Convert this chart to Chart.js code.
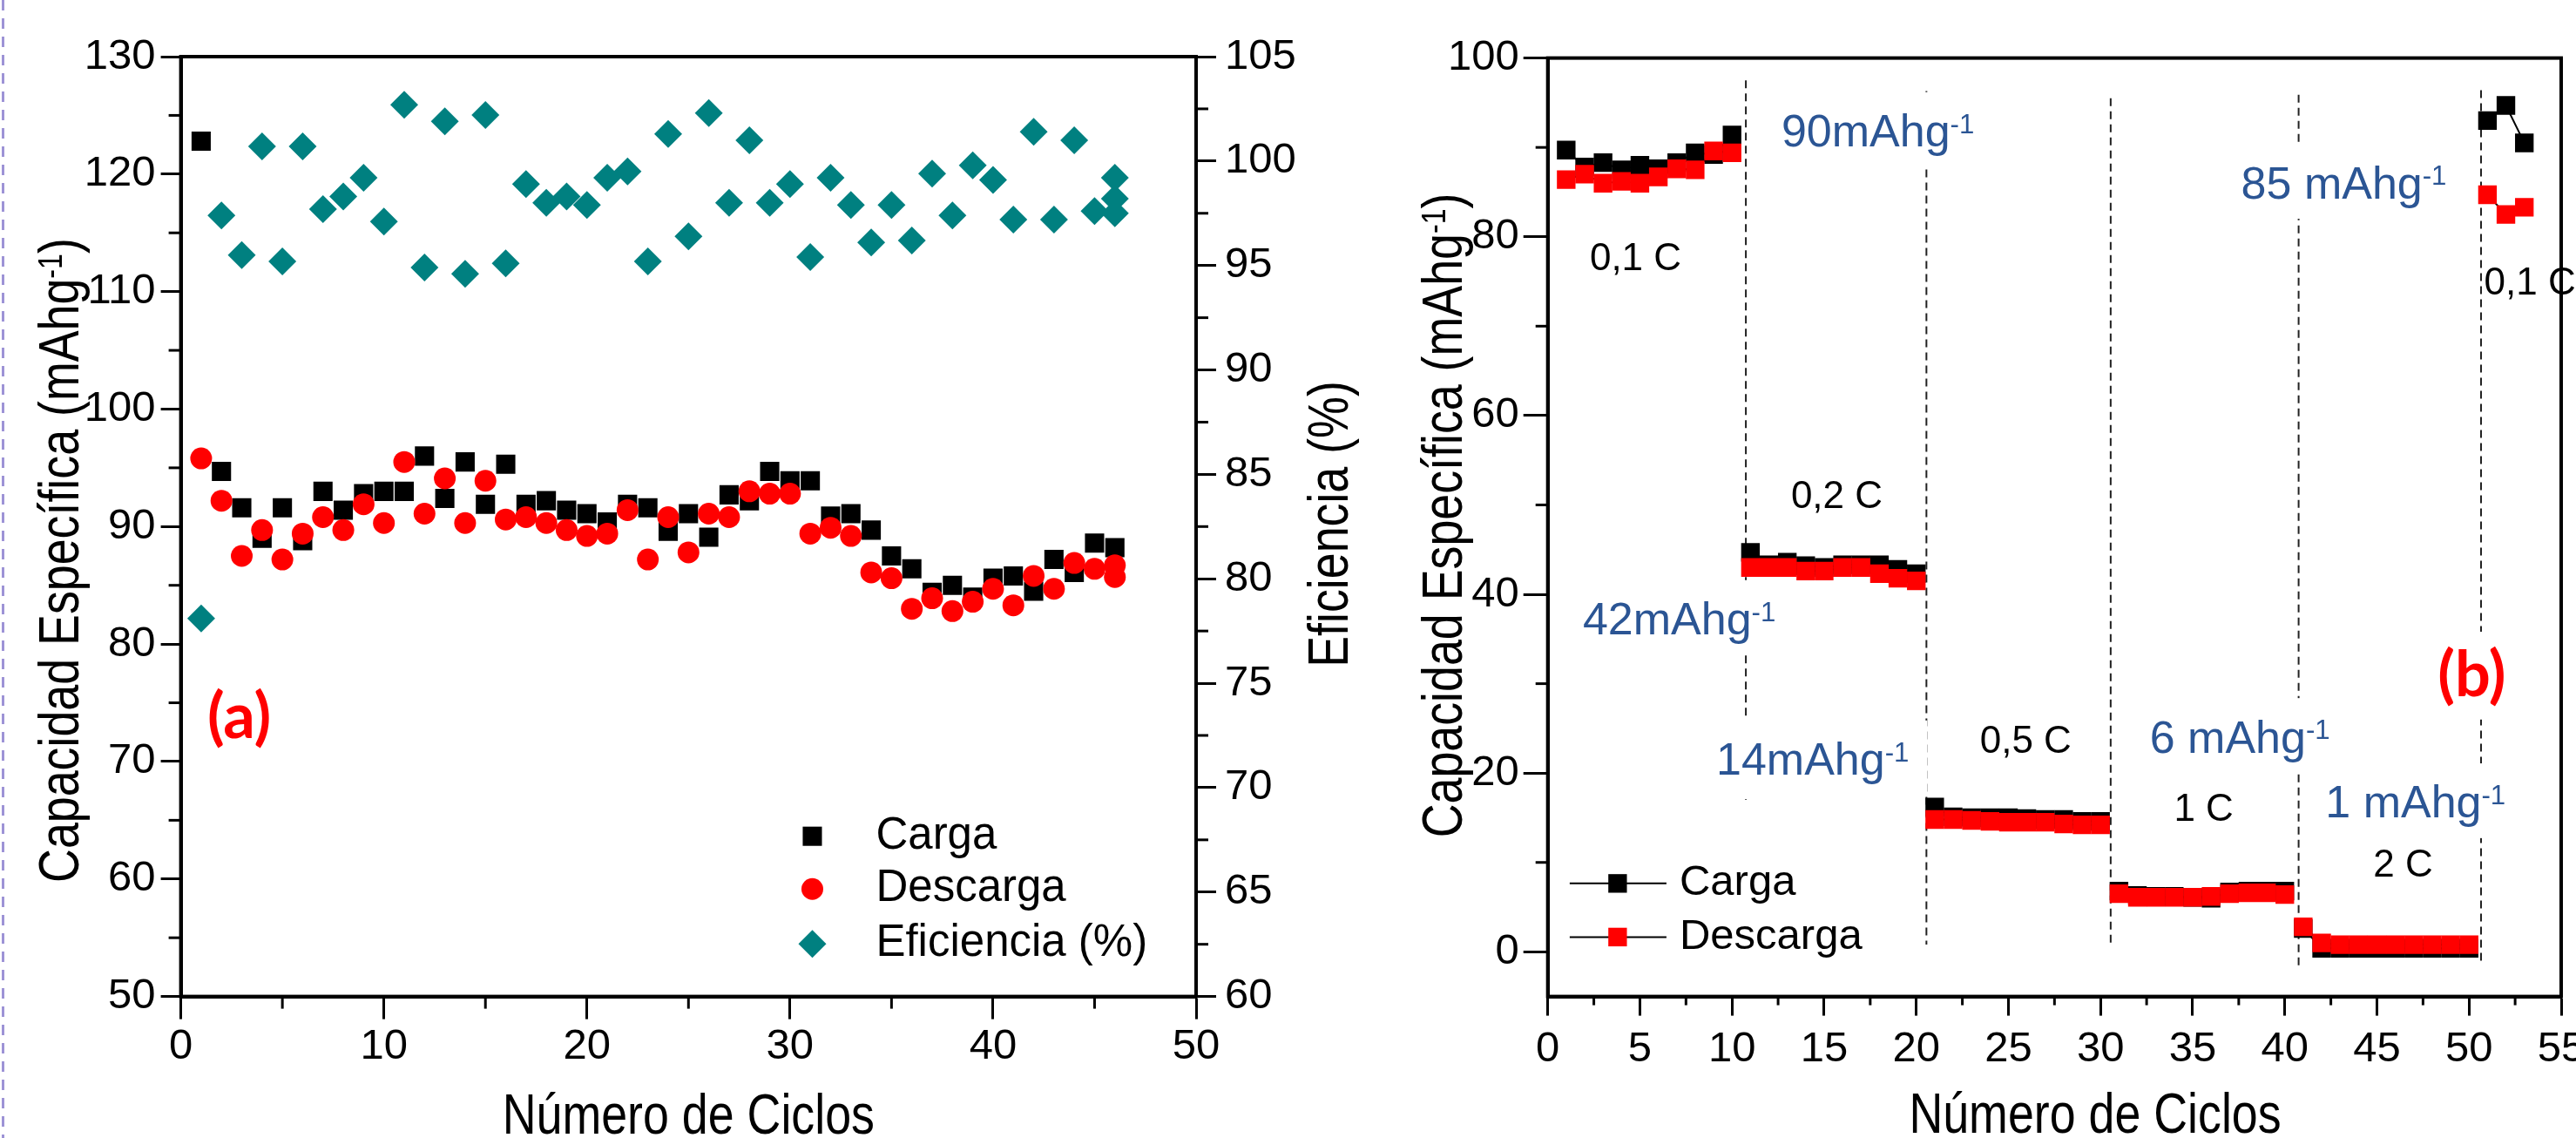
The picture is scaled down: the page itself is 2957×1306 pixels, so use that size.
<!DOCTYPE html>
<html><head><meta charset="utf-8">
<script src="https://cdn.jsdelivr.net/npm/chart.js@4.4.1/dist/chart.umd.min.js"></script>
<style>
html,body{margin:0;padding:0;background:#fff;width:2957px;height:1306px;overflow:hidden;}
#wrap{position:relative;width:2957px;height:1306px;overflow:hidden;background:#fff;}
#ca{position:absolute;left:0;top:0;}
#cb{position:absolute;left:1480px;top:0;}
#edge{position:absolute;left:2px;top:0;width:3px;height:1306px;background:repeating-linear-gradient(to bottom,#9d93d6 0 12px,transparent 12px 21px);}
</style></head><body><div id="wrap"><div id="edge"></div>
<canvas id="ca" width="1600" height="1306" style="width:1600px;height:1306px"></canvas>
<canvas id="cb" width="1500" height="1306" style="width:1500px;height:1306px"></canvas></div>
<script>
// ---------------- Panel (a) data ----------------
const ciclosCargaA = [1,2,3,4,5,6,7,8,9,10,11,12,13,14,15,16,17,18,19,20,21,22,23,24,25,26,27,28,29,30,31,32,33,34,35,36,37,38,39,40,41,42,43,44,45,46];
const cargaA = [122.8,94.7,91.6,89.0,91.6,88.8,93.0,91.4,92.8,93.0,93.0,96.0,92.4,95.5,91.9,95.3,91.9,92.2,91.4,91.1,90.4,91.9,91.6,89.6,91.1,89.1,92.7,92.2,94.7,93.9,93.9,90.9,91.1,89.7,87.5,86.4,84.4,85.0,84.0,85.6,85.8,84.5,87.2,86.1,88.6,88.2];
const ciclosDescargaA = [1,2,3,4,5,6,7,8,9,10,11,12,13,14,15,16,17,18,19,20,21,22,23,24,25,26,27,28,29,30,31,32,33,34,35,36,37,38,39,40,41,42,43,44,45,46,46];
const descargaA = [95.8,92.2,87.5,89.7,87.2,89.4,90.8,89.7,91.9,90.3,95.5,91.1,94.1,90.3,93.9,90.6,90.8,90.3,89.7,89.2,89.4,91.4,87.2,90.8,87.8,91.1,90.8,93.0,92.8,92.8,89.4,89.9,89.2,86.1,85.6,83.0,83.9,82.8,83.6,84.7,83.3,85.8,84.7,86.9,86.4,86.7,85.7];
const ciclosEficienciaA = [1,2,3,4,5,6,7,8,9,10,11,12,13,14,15,16,17,18,19,20,21,22,23,24,25,26,27,28,29,30,31,32,33,34,35,36,37,38,39,40,41,42,43,44,45,46,46,46];
const eficienciaA = [78.1,97.4,95.5,100.7,95.2,100.7,97.7,98.3,99.2,97.1,102.7,94.9,101.9,94.6,102.2,95.1,98.9,98.0,98.3,97.9,99.2,99.5,95.2,101.3,96.4,102.3,98.0,101.0,98.0,98.9,95.4,99.2,97.9,96.1,97.9,96.2,99.4,97.4,99.8,99.1,97.2,101.4,97.2,101.0,97.6,99.2,98.2,97.5];
const ticksXA = [0,10,20,30,40,50];
const ticksYA = [50,60,70,80,90,100,110,120,130];
const ticksY2A = [60,65,70,75,80,85,90,95,100,105];

// ---------------- Panel (b) data ----------------
const ciclosB = [1,2,3,4,5,6,7,8,9,10,11,12,13,14,15,16,17,18,19,20,21,22,23,24,25,26,27,28,29,30,31,32,33,34,35,36,37,38,39,40,41,42,43,44,45,46,47,48,49,50,51,52,53];
const cargaB = [89.7,87.8,88.3,87.5,88.0,87.6,88.3,89.4,89.2,91.4,
                44.7,43.3,43.6,43.2,43.0,43.3,43.3,43.3,42.8,42.3,
                16.2,15.1,15.0,15.0,15.0,14.9,14.8,14.8,14.6,14.6,
                6.8,6.3,6.2,6.2,6.1,6.0,6.7,6.8,6.8,6.8,
                2.6,0.4,0.4,0.4,0.4,0.4,0.4,0.4,0.4,0.4,
                93.0,94.7,90.5];
const descargaB = [86.4,87.0,86.0,86.2,86.0,86.7,87.6,87.5,89.6,89.4,
                   43.0,43.0,43.0,42.6,42.6,43.0,43.0,42.3,41.8,41.5,
                   14.8,14.8,14.7,14.6,14.5,14.5,14.5,14.3,14.2,14.2,
                   6.5,6.1,6.1,6.1,6.1,6.2,6.5,6.6,6.6,6.4,
                   2.8,1.0,0.8,0.8,0.8,0.8,0.8,0.8,0.8,0.8,
                   84.7,82.5,83.3];
const inicioTramosB = [1,11,21,31,41,51];
const ticksXB = [0,5,10,15,20,25,30,35,40,45,50,55];
const ticksYB = [0,20,40,60,80,100];
const cortesB = [10.75,20.55,30.55,40.75,50.65];
const cortesTopB = [97.5,96.3,95.5,95.9,96.4];
const cortesBottomB = [17.0,0.8,0.6,-1.9,-1.1];
const tasasB = ['0,1 C','0,2 C','0,5 C','1 C','2 C','0,1 C'];
const tasasXB = [2.28,13.2,23.45,33.98,44.8,50.82];
const tasasYB = [76.3,49.7,22.3,14.7,8.4,73.5];
const capacidadesB = ['90mAhg','42mAhg','14mAhg','6 mAhg','1 mAhg','85 mAhg'];
const capacidadesXB = [12.68,1.90,9.14,32.67,42.2,37.63];
const capacidadesYB = [90.1,35.5,19.8,22.3,15.0,84.3];

// ---------------- helpers ----------------
const FONT = "'Liberation Sans', Arial, Helvetica, sans-serif";
Chart.defaults.font.family = FONT;
Chart.defaults.color = '#000';

function fixedTicks(arr){ return s => { s.ticks = arr.map(v => ({value: v})); }; }
function mids(arr){ return arr.slice(1).map((v,i) => (v + arr[i]) / 2); }

function richText(ctx, parts, x, y, o){
  ctx.save();
  ctx.translate(x, y);
  if (o.rot) ctx.rotate(o.rot);
  ctx.scale(o.sx || 1, 1);
  ctx.textAlign = 'left';
  ctx.textBaseline = o.baseline || 'alphabetic';
  const fam = o.family || FONT;
  const f = s => (o.weight || 'normal') + ' ' + s + 'px ' + fam;
  let total = 0;
  const ws = parts.map(p => { ctx.font = f(p.sup ? o.size * 0.6 : o.size); const w = ctx.measureText(p.t).width; total += w; return w; });
  let cx = o.align === 'center' ? -total / 2 : (o.align === 'right' ? -total : 0);
  if (o.box){
    ctx.fillStyle = '#fff';
    const pad = o.size * 0.4;
    if ((o.baseline || 'alphabetic') === 'middle') ctx.fillRect(cx - pad, -o.size * 0.7, total + 2 * pad, o.size * 1.4);
    else ctx.fillRect(cx - pad, -o.size * 1.2, total + 2 * pad, o.size * 1.65);
  }
  ctx.fillStyle = o.color || '#000';
  parts.forEach((p, i) => { ctx.font = f(p.sup ? o.size * 0.6 : o.size); ctx.fillText(p.t, cx, p.sup ? -o.size * 0.3 : 0); cx += ws[i]; });
  ctx.restore();
}

function minorTicks(chart, specs){
  const ctx = chart.ctx, a = chart.chartArea;
  ctx.save(); ctx.strokeStyle = '#000'; ctx.lineWidth = 3;
  specs.forEach(sp => {
    const sc = chart.scales[sp.id];
    sp.values.forEach(v => {
      const p = sc.getPixelForValue(v);
      ctx.beginPath();
      if (sp.side === 'bottom'){ ctx.moveTo(p, a.bottom); ctx.lineTo(p, a.bottom + sp.len); }
      else if (sp.side === 'left'){ ctx.moveTo(a.left, p); ctx.lineTo(a.left - sp.len, p); }
      else { ctx.moveTo(a.right, p); ctx.lineTo(a.right + sp.len, p); }
      ctx.stroke();
    });
  });
  ctx.restore();
}

function frame(chart){
  const ctx = chart.ctx, a = chart.chartArea;
  ctx.save(); ctx.strokeStyle = '#000'; ctx.lineWidth = 4;
  ctx.strokeRect(a.left, a.top, a.right - a.left, a.bottom - a.top);
  ctx.restore();
}

function marker(ctx, style, x, y, r, color){
  ctx.save(); ctx.fillStyle = color; ctx.beginPath();
  if (style === 'rect'){ const h = r * Math.SQRT1_2; ctx.rect(x - h, y - h, 2 * h, 2 * h); }
  else if (style === 'circle'){ ctx.arc(x, y, r, 0, Math.PI * 2); }
  else { ctx.moveTo(x - r, y); ctx.lineTo(x, y - r); ctx.lineTo(x + r, y); ctx.lineTo(x, y + r); ctx.closePath(); }
  ctx.fill(); ctx.restore();
}

const TITLE = 64, TITLE_SX = 0.84;
const LABEL_FONT = "Lato, 'Open Sans', sans-serif";
const capTitle = [{t:'Capacidad Específica (mAhg'},{t:'-1',sup:true},{t:')'}];

// ---------------- Panel (a) ----------------
const pluginA = {
  id: 'extrasA',
  beforeDatasetsDraw(chart){ frame(chart); },
  afterDraw(chart){
    const ctx = chart.ctx, {x, y} = chart.scales, a = chart.chartArea;
    minorTicks(chart, [
      {id:'x', side:'bottom', len:14, values: mids(ticksXA)},
      {id:'y', side:'left', len:14, values: mids(ticksYA)},
      {id:'y2', side:'right', len:14, values: mids(ticksY2A)}
    ]);
    // legend
    const legX = x.getPixelForValue(31.1), legT = x.getPixelForValue(34.23);
    const rows = [
      {t:'Carga', s:'rect', r:15.6, c:'#000', v:63.64},
      {t:'Descarga', s:'circle', r:12.5, c:'#ff0000', v:59.15},
      {t:'Eficiencia (%)', s:'rectRot', r:16, c:'#008080', v:54.47}
    ];
    rows.forEach(rw => {
      const py = y.getPixelForValue(rw.v);
      marker(ctx, rw.s, legX, py, rw.r, rw.c);
      richText(ctx, [{t:rw.t}], legT, py, {size:51, baseline:'middle'});
    });
    // (a)
    richText(ctx, [{t:'(a)'}], x.getPixelForValue(1.3), y.getPixelForValue(73.7), {size:72, weight:'bold', family:LABEL_FONT, color:'#ff0000', baseline:'middle'});
    // titles
    richText(ctx, [{t:'Número de Ciclos'}], (a.left + a.right) / 2, 1301, {size:TITLE, sx:TITLE_SX, align:'center'});
    richText(ctx, capTitle, 90, 643, {size:TITLE, sx:TITLE_SX, align:'center', rot:-Math.PI/2});
    richText(ctx, [{t:'Eficiencia (%)'}], 1547, 601.5, {size:TITLE, sx:TITLE_SX, align:'center', rot:-Math.PI/2});
  }
};

const tickFont = {size:49, family:FONT};
function axisCommon(len){
  return {
    grid:{display:true, drawOnChartArea:false, drawTicks:true, tickLength:len, tickWidth:3, tickColor:'#000'},
    border:{display:true, width:4, color:'#000'}
  };
}

new Chart(document.getElementById('ca'), {
  type: 'scatter',
  data: { datasets: [
    {label:'Descarga', data: ciclosDescargaA.map((c,i) => ({x:c, y:descargaA[i]})), yAxisID:'y', order:0,
     pointStyle:'circle', pointRadius:12.5, pointBackgroundColor:'#ff0000', pointBorderColor:'#ff0000', pointBorderWidth:0},
    {label:'Carga', data: ciclosCargaA.map((c,i) => ({x:c, y:cargaA[i]})), yAxisID:'y', order:1,
     pointStyle:'rect', pointRadius:15.6, pointBackgroundColor:'#000', pointBorderColor:'#000', pointBorderWidth:0},
    {label:'Eficiencia (%)', data: ciclosEficienciaA.map((c,i) => ({x:c, y:eficienciaA[i]})), yAxisID:'y2', order:2,
     pointStyle:'rectRot', pointRadius:16, pointBackgroundColor:'#008080', pointBorderColor:'#008080', pointBorderWidth:0}
  ]},
  options: {
    responsive:false, animation:false, devicePixelRatio:1, events:[],
    layout:{padding:{top:65, left:0, right:0, bottom:0}},
    plugins:{legend:{display:false}, tooltip:{enabled:false}},
    scales:{
      x: Object.assign({type:'linear', position:'bottom', min:0, max:50,
          afterBuildTicks: fixedTicks(ticksXA), afterFit: s => { s.height = 162.4; },
          ticks:{font:tickFont, padding:2, maxRotation:0, autoSkip:false}}, axisCommon(26)),
      y: Object.assign({type:'linear', position:'left', min:50, max:130,
          afterBuildTicks: fixedTicks(ticksYA), afterFit: s => { s.width = 207.6; },
          ticks:{font:tickFont, padding:6, autoSkip:false}}, axisCommon(23)),
      y2: Object.assign({type:'linear', position:'right', min:60, max:105,
          afterBuildTicks: fixedTicks(ticksY2A), afterFit: s => { s.width = 1600 - 1373; },
          ticks:{font:tickFont, padding:10, autoSkip:false}}, axisCommon(23))
    }
  },
  plugins:[pluginA]
});

// ---------------- Panel (b) ----------------
function tramo(v){ let g = 0; inicioTramosB.forEach(s => { if (v >= s) g++; }); return g; }
const segColor = ctx => tramo(ctx.p0.parsed.x) === tramo(ctx.p1.parsed.x) ? '#000' : 'rgba(0,0,0,0)';

const pluginB = {
  id: 'extrasB',
  beforeDatasetsDraw(chart){
    const ctx = chart.ctx, {x, y} = chart.scales;
    frame(chart);
    ctx.save(); ctx.strokeStyle = '#222'; ctx.lineWidth = 2; ctx.setLineDash([9, 6]);
    cortesB.forEach((c, i) => {
      const px = x.getPixelForValue(c);
      ctx.beginPath(); ctx.moveTo(px, y.getPixelForValue(cortesTopB[i])); ctx.lineTo(px, y.getPixelForValue(cortesBottomB[i])); ctx.stroke();
    });
    ctx.restore();
  },
  afterDraw(chart){
    const ctx = chart.ctx, {x, y} = chart.scales;
    minorTicks(chart, [
      {id:'x', side:'bottom', len:10, values: mids(ticksXB)},
      {id:'y', side:'left', len:14, values: mids(ticksYB)}
    ]);
    // rate labels
    tasasB.forEach((t, i) => richText(ctx, [{t}], x.getPixelForValue(tasasXB[i]), y.getPixelForValue(tasasYB[i]), {size:44}));
    // capacity labels
    capacidadesB.forEach((t, i) => richText(ctx, [{t},{t:'-1',sup:true}], x.getPixelForValue(capacidadesXB[i]), y.getPixelForValue(capacidadesYB[i]), {size:52, color:'#2b5594', box:true}));
    // (b)
    richText(ctx, [{t:'(b)'}], x.getPixelForValue(48.3), y.getPixelForValue(30.9), {size:72, weight:'bold', family:LABEL_FONT, color:'#ff0000', baseline:'middle', box:true});
    // legend
    const rows = [{t:'Carga', c:'#000', v:7.65}, {t:'Descarga', c:'#ff0000', v:1.65}];
    rows.forEach(rw => {
      const py = y.getPixelForValue(rw.v);
      ctx.save(); ctx.strokeStyle = '#000'; ctx.lineWidth = 2;
      ctx.beginPath(); ctx.moveTo(x.getPixelForValue(1.19), py); ctx.lineTo(x.getPixelForValue(6.44), py); ctx.stroke(); ctx.restore();
      marker(ctx, 'rect', x.getPixelForValue(3.79), py, 15.1, rw.c);
      richText(ctx, [{t:rw.t}], x.getPixelForValue(7.15), py, {size:49, baseline:'middle'});
    });
    // titles
    richText(ctx, [{t:'Número de Ciclos'}], 925, 1300, {size:TITLE, sx:TITLE_SX, align:'center'});
    richText(ctx, capTitle, 198, 591.4, {size:TITLE, sx:TITLE_SX, align:'center', rot:-Math.PI/2});
  }
};

new Chart(document.getElementById('cb'), {
  type: 'scatter',
  data: { datasets: [
    {label:'Descarga', data: ciclosB.map((c,i) => ({x:c, y:descargaB[i]})), order:0, showLine:true,
     borderColor:'#000', borderWidth:2, segment:{borderColor:segColor},
     pointStyle:'rect', pointRadius:15.1, pointBackgroundColor:'#ff0000', pointBorderColor:'#ff0000', pointBorderWidth:0},
    {label:'Carga', data: ciclosB.map((c,i) => ({x:c, y:cargaB[i]})), order:1, showLine:true,
     borderColor:'#000', borderWidth:2, segment:{borderColor:segColor},
     pointStyle:'rect', pointRadius:15.1, pointBackgroundColor:'#000', pointBorderColor:'#000', pointBorderWidth:0}
  ]},
  options: {
    responsive:false, animation:false, devicePixelRatio:1, events:[],
    layout:{padding:{top:66.6, left:0, right:1500 - 1460, bottom:0}},
    plugins:{legend:{display:false}, tooltip:{enabled:false}},
    scales:{
      x: Object.assign({type:'linear', position:'bottom', min:0, max:55,
          afterBuildTicks: fixedTicks(ticksXB), afterFit: s => { s.height = 162.4; },
          ticks:{font:tickFont, padding:9, maxRotation:0, autoSkip:false}}, axisCommon(22)),
      y: Object.assign({type:'linear', position:'left', min:-5, max:100,
          afterBuildTicks: fixedTicks(ticksYB), afterFit: s => { s.width = 296.7; },
          ticks:{font:tickFont, padding:5, autoSkip:false}}, axisCommon(28))
    }
  },
  plugins:[pluginB]
});
</script></body></html>
